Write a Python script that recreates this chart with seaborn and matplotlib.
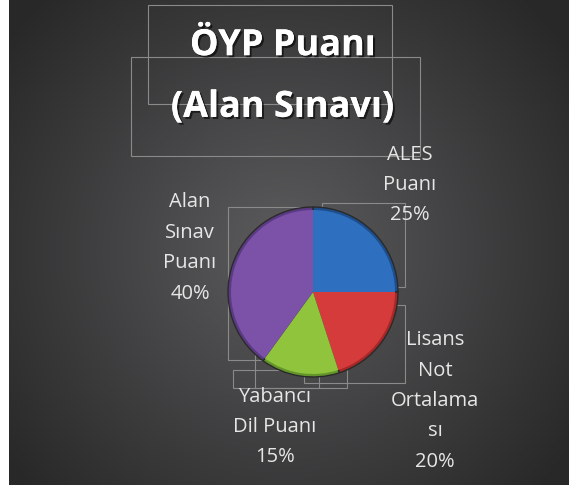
import numpy as np
import matplotlib
matplotlib.use('Agg')
import matplotlib.pyplot as plt
import matplotlib.patheffects as pe
from matplotlib.patches import Rectangle
import seaborn as sns

# veriler
etiketler = ['ALES\nPuanı', 'Lisans\nNot\nOrtalama\nsı', 'Yabancı\nDil Puanı', 'Alan\nSınav\nPuanı']
oranlar = [25, 20, 15, 40]
renkler = ['#2f6fc0', '#d63b3b', '#8fc43c', '#7c52a8']
kenar_renk = ['#1d4f8f', '#a82828', '#63952a', '#5a3a82']
baslik = 'ÖYP Puanı\n(Alan Sınavı)'

sns.set_theme(style='white')
plt.rcParams['font.family'] = ['Open Sans', 'DejaVu Sans']

W, H = 569, 488
fig = plt.figure(figsize=(W / 100, H / 100), dpi=100, facecolor='white')
ax = fig.add_axes([0, 0, 1, 1])

def Y(py):
    # piksel (yukaridan) -> eksen (asagidan)
    return H - py

# arka plan: radyal gradyan
x0, x1, y0, y1 = 9, W, 3, H
gx, gy = np.meshgrid(np.linspace(x0, x1, 300), np.linspace(y1, y0, 300))
d = np.sqrt(((gx - 285) / 330) ** 2 + ((gy - Y(250)) / 330) ** 2)
val = np.clip(0.36 - 0.19 * d, 0.16, 0.36)
img = np.dstack([val, val, val * 1.02])
ax.imshow(np.clip(img, 0, 1), extent=[x0, x1, y0, y1], aspect='auto', zorder=0)

# ince gri kutular (etiket cerceveleri)
kutular = [(148, 5, 392, 104), (131, 57, 420, 156), (322, 203, 405, 287),
           (304, 305, 405, 383), (228, 207, 304, 360), (255, 287, 347, 388),
           (233, 370, 319, 388)]
for (a, b, c, e) in kutular:
    ax.add_patch(Rectangle((a, Y(e)), c - a, e - b, fill=False,
                           edgecolor='#8a8a8a', lw=0.8, zorder=1))

# pasta: koyu kenar + ana renk
merkez = (313, Y(292))
ax.pie(oranlar, colors=kenar_renk, startangle=90, counterclock=False,
       center=merkez, radius=85, frame=True,
       wedgeprops=dict(edgecolor='#2a2a2a', linewidth=1.0))
ax.pie(oranlar, colors=renkler, startangle=90, counterclock=False,
       center=merkez, radius=82, frame=True,
       wedgeprops=dict(edgecolor='none', linewidth=0))
ax.set_xlim(0, W)
ax.set_ylim(0, H)
ax.set_aspect('auto')
ax.axis('off')

# baslik
golge = [pe.withSimplePatchShadow(offset=(1.5, -1.5), shadow_rgbFace='black', alpha=0.6), pe.Normal()]
ax.text(283, Y(77), baslik, ha='center', va='center', color='white', fontsize=26,
        fontweight='bold', linespacing=1.95, path_effects=golge, zorder=5)

# etiketler
konumlar = [(410, 185), (435, 401), (275, 427), (190, 248)]
for et, o, (px, py) in zip(etiketler, oranlar, konumlar):
    ax.text(px, Y(py), f'{et}\n{o}%', ha='center', va='center', color='#e6e6e6',
            fontsize=14.5, linespacing=1.7, zorder=5)

fig.savefig('out.png', dpi=100, facecolor='white')
